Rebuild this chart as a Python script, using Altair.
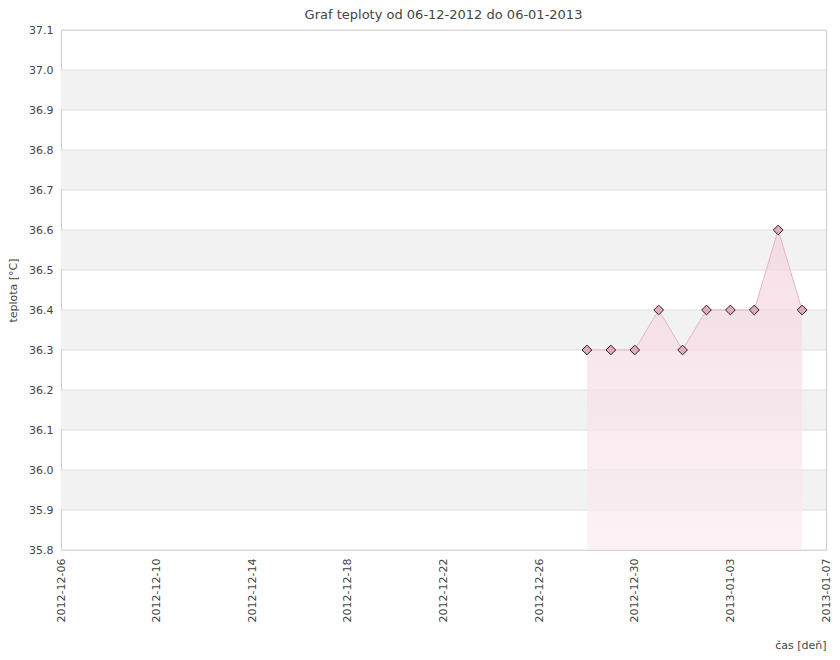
import altair as alt
import pandas as pd

dates = ["2012-12-28", "2012-12-29", "2012-12-30", "2012-12-31", "2013-01-01",
         "2013-01-02", "2013-01-03", "2013-01-04", "2013-01-05", "2013-01-06"]
temps = [36.3, 36.3, 36.3, 36.4, 36.3, 36.4, 36.4, 36.4, 36.6, 36.4]

x_ticks = ["2012-12-06", "2012-12-10", "2012-12-14", "2012-12-18", "2012-12-22",
           "2012-12-26", "2012-12-30", "2013-01-03", "2013-01-07"]
y_ticks = [35.8, 35.9, 36.0, 36.1, 36.2, 36.3, 36.4, 36.5, 36.6, 36.7, 36.8, 36.9, 37.0, 37.1]
band_starts = [35.9, 36.1, 36.3, 36.5, 36.7, 36.9]

title = "Graf teploty od 06-12-2012 do 06-01-2013"
x_title = "čas [deň]"
y_title = "teplota [°C]"

W, H = 765, 520

def dt(s):
    y, m, d = (int(v) for v in s.split("-"))
    return alt.DateTime(year=y, month=m, date=d, utc=True)

df = pd.DataFrame({"date": dates, "temp": temps})
bands = pd.DataFrame({"y": band_starts, "y2": [round(b + 0.1, 1) for b in band_starts]})
grid = pd.DataFrame({"y": y_ticks})

FONT = "DejaVu Sans"
xscale = alt.Scale(type="utc", domain=[dt(x_ticks[0]), dt(x_ticks[-1])])
yscale = alt.Scale(domain=[y_ticks[0], y_ticks[-1]], nice=False, zero=False)
yaxis = alt.Axis(values=y_ticks, format=".1f", title=y_title,
                 grid=False, domain=False, ticks=False, labelOverlap=False,
                 labelPadding=8, titlePadding=10)
xaxis = alt.Axis(values=[dt(v) for v in x_ticks], format="%Y-%m-%d",
                 labelAngle=270, title=x_title, grid=False,
                 domain=False, ticks=False, labelPadding=8, labelOverlap=False,
                 titleAnchor="end", titleAlign="right", titlePadding=18)

band_layer = alt.Chart(bands).mark_rect(color="#f2f2f2").encode(
    y=alt.Y("y:Q", scale=yscale, axis=yaxis),
    y2="y2:Q",
    x=alt.value(0), x2=alt.value(W),
)

grid_layer = alt.Chart(grid).mark_rule(color="#dddddd", strokeWidth=1).encode(
    y=alt.Y("y:Q", scale=yscale, axis=yaxis),
    x=alt.value(0), x2=alt.value(W),
)

area = alt.Chart(df).mark_area(
    line={"color": "#e8b4c4", "strokeWidth": 1},
    color=alt.Gradient(gradient="linear",
                       stops=[alt.GradientStop(color="#f3d3dd", offset=0),
                              alt.GradientStop(color="#fbedf1", offset=1)],
                       x1=1, x2=1, y1=0, y2=1),
).encode(
    x=alt.X("date:T", scale=xscale, axis=xaxis),
    y=alt.Y("temp:Q", scale=yscale, axis=yaxis),
    y2=alt.datum(35.8),
)

points = alt.Chart(df).mark_point(
    shape="diamond", filled=True, fill="#e3a9bd", stroke="#222222",
    strokeWidth=1, size=95, opacity=1,
).encode(
    x=alt.X("date:T", scale=xscale, axis=xaxis),
    y=alt.Y("temp:Q", scale=yscale, axis=yaxis),
)

chart = alt.layer(band_layer, grid_layer, area, points).resolve_axis(
    y="shared", x="shared"
).properties(
    width=W, height=H,
    title=alt.TitleParams(title, fontSize=13, font=FONT, fontWeight="normal",
                          color="#444444", anchor="middle", offset=2),
    autosize=alt.AutoSizeParams(type="none"),
    padding={"left": 53, "top": 22, "right": 6, "bottom": 102},
).configure_view(
    stroke="#cccccc", strokeWidth=1,
).configure_axis(
    labelFont=FONT, titleFont=FONT, labelFontSize=11, titleFontSize=11,
    labelColor="#444444", titleColor="#444444", titleFontWeight="normal",
)

chart.save("out.html", embed_options={"renderer": "svg", "actions": False})
